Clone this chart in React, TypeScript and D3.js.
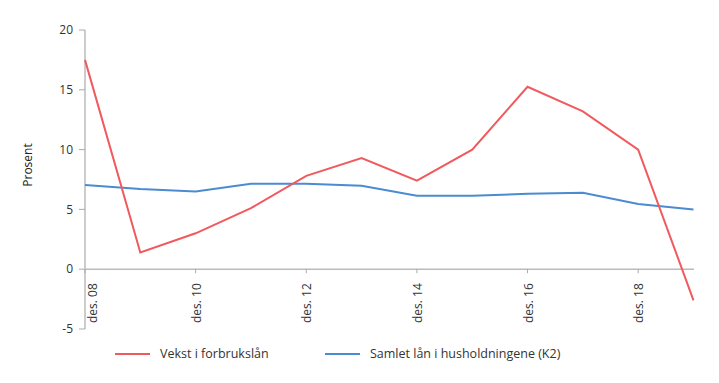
import React from "react";
import * as d3 from "d3";

const years = ["des. 08", "des. 09", "des. 10", "des. 11", "des. 12", "des. 13", "des. 14", "des. 15", "des. 16", "des. 17", "des. 18", "des. 19"];
const forbruk = [17.5, 1.4, 3.0, 5.1, 7.8, 9.3, 7.4, 10.0, 15.25, 13.2, 10.0, -2.6];
const k2 = [7.05, 6.7, 6.5, 7.15, 7.15, 6.98, 6.15, 6.15, 6.3, 6.4, 5.45, 5.0];
const yTicks = [20, 15, 10, 5, 0, -5];
const xTickLabels = ["des. 08", "des. 10", "des. 12", "des. 14", "des. 16", "des. 18"];

const RED = "#f05a5e";
const BLUE = "#4a8bd2";
const FONT = "'Open Sans', sans-serif";

export default function App() {
  const W = 719, H = 383;
  const x = d3.scalePoint<string>().domain(years).range([85, 693.5]);
  const y = d3.scaleLinear().domain([-5, 20]).range([329, 30]);
  const line = d3.line<number>().x((_, i) => x(years[i])!).y((d) => y(d));

  return (
    <svg width={W} height={H} style={{ position: "absolute", left: 0, top: 0 }} fontFamily={FONT}>
      <rect width={W} height={H} fill="#fff" />
      {/* y axis */}
      <line x1={85} x2={85} y1={y(20)} y2={y(-5)} stroke="#999" strokeWidth={1} />
      {yTicks.map((t) => (
        <g key={t}>
          <line x1={79} x2={85} y1={y(t)} y2={y(t)} stroke="#aaa" />
          <text x={73} y={y(t)} dy="0.35em" textAnchor="end" fontSize={12} fill="#333">{t}</text>
        </g>
      ))}
      <text transform={`translate(32,${165}) rotate(-90)`} textAnchor="middle" fontSize={12} fill="#222">Prosent</text>
      {/* zero line */}
      <line x1={85} x2={694} y1={y(0)} y2={y(0)} stroke="#bbb" strokeWidth={1.5} />
      {xTickLabels.map((l, i) => {
        const xx = x(l)!;
        const lx = i === 0 ? xx + 8 : xx + 1;
        return (
          <g key={l}>
            <line x1={xx} x2={xx} y1={y(0)} y2={y(0) + 4} stroke="#aaa" />
            <text transform={`translate(${lx},${y(0) + 14}) rotate(-90)`} textAnchor="end" dy="0.35em" fontSize={12} fill="#333">{l}</text>
          </g>
        );
      })}
      <path d={line(k2)!} fill="none" stroke={BLUE} strokeWidth={2} />
      <path d={line(forbruk)!} fill="none" stroke={RED} strokeWidth={2} />
      {/* legend */}
      <line x1={115} x2={150} y1={354} y2={354} stroke={RED} strokeWidth={2} />
      <text x={160} y={354} dy="0.35em" fontSize={12.5} fill="#333">Vekst i forbrukslån</text>
      <line x1={325} x2={360} y1={354} y2={354} stroke={BLUE} strokeWidth={2} />
      <text x={370} y={354} dy="0.35em" fontSize={12.5} fill="#333">Samlet lån i husholdningene (K2)</text>
    </svg>
  );
}
